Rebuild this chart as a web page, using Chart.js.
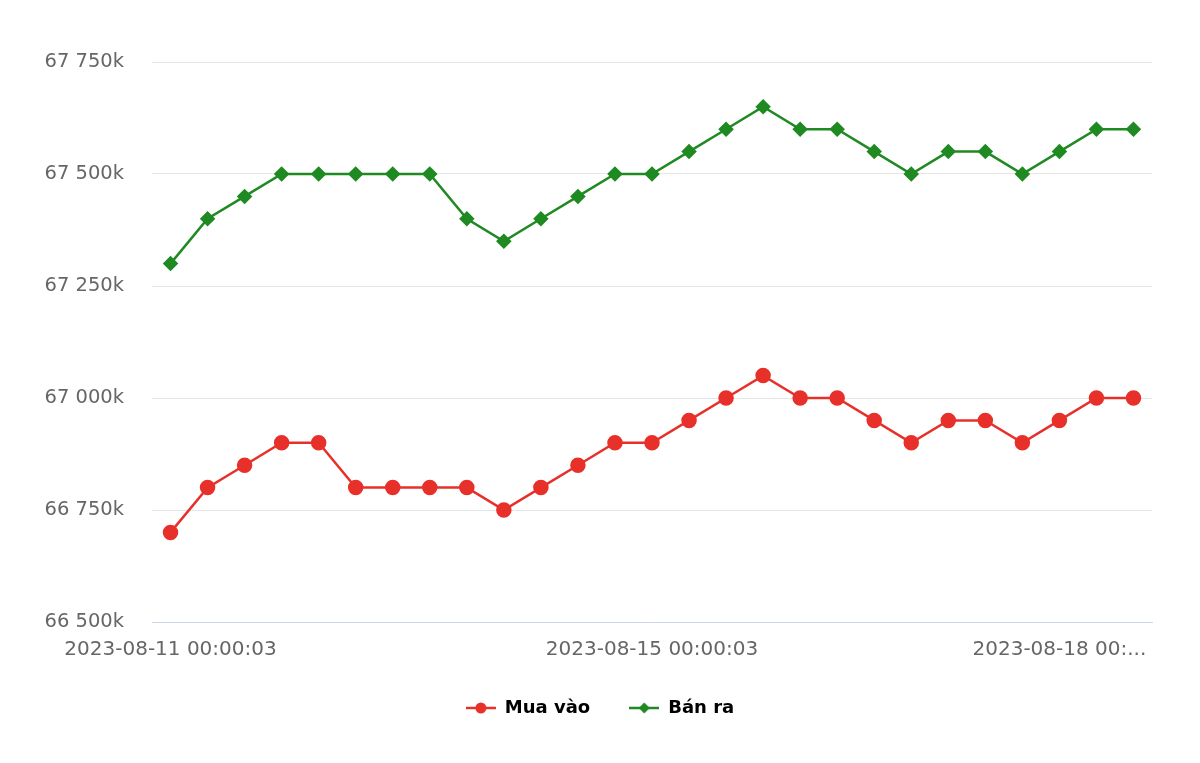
<!DOCTYPE html>
<html>
<head>
<meta charset="utf-8">
<style>
html,body{margin:0;padding:0;background:#fff;}
#wrap{width:1200px;height:763px;position:relative;}
</style>
<script src="https://cdn.jsdelivr.net/npm/chart.js@4.4.0/dist/chart.umd.min.js"></script>
</head>
<body>
<div id="wrap"><canvas id="c" width="1200" height="763"></canvas></div>
<script>
// Data (values in thousands)
const xLabels = [
  "2023-08-11 00:00:03","","","","","","","","","","","","",
  "2023-08-15 00:00:03","","","","","","","","","","",
  "2023-08-18 00:...","",""
];
const muaVao = [66700,66800,66850,66900,66900,66800,66800,66800,66800,66750,66800,66850,66900,66900,66950,67000,67050,67000,67000,66950,66900,66950,66950,66900,66950,67000,67000];
const banRa  = [67300,67400,67450,67500,67500,67500,67500,67500,67400,67350,67400,67450,67500,67500,67550,67600,67650,67600,67600,67550,67500,67550,67550,67500,67550,67600,67600];
const yMin = 66500, yMax = 67750, yStep = 250;
const seriesNames = ["Mua vào","Bán ra"];

const RED = "#e8302a", GREEN = "#1f8a22";
const FONT = "'DejaVu Sans', Verdana, sans-serif";

function legendIcon(color, style){
  const cv = document.createElement('canvas');
  cv.width = 30; cv.height = 14;
  const g = cv.getContext('2d');
  g.strokeStyle = color; g.lineWidth = 2.5;
  g.beginPath(); g.moveTo(0,7); g.lineTo(30,7); g.stroke();
  g.fillStyle = color;
  g.beginPath();
  if(style === 'circle'){ g.arc(15,7,5.5,0,Math.PI*2); }
  else { g.moveTo(15,1.5); g.lineTo(20.5,7); g.lineTo(15,12.5); g.lineTo(9.5,7); g.closePath(); }
  g.fill();
  return cv;
}
const icons = [legendIcon(RED,'circle'), legendIcon(GREEN,'diamond')];

function fmt(v){
  return String(v).replace(/\B(?=(\d{3})+(?!\d))/g,' ') + 'k';
}

new Chart(document.getElementById('c'), {
  type: 'line',
  data: {
    labels: xLabels,
    datasets: [
      {label: seriesNames[0], data: muaVao, borderColor: RED, backgroundColor: RED, borderWidth: 2.5,
       pointStyle: 'circle', pointRadius: 6.5, pointHoverRadius: 7, tension: 0},
      {label: seriesNames[1], data: banRa, borderColor: GREEN, backgroundColor: GREEN, borderWidth: 2.5,
       pointStyle: 'rectRot', pointRadius: 6, pointHoverRadius: 7, tension: 0}
    ]
  },
  options: {
    responsive: false,
    animation: false,
    layout: {padding: {left: 0, right: 0, top: 62, bottom: 36}},
    scales: {
      x: {
        offset: true,
        grid: {display: false, drawTicks: false},
        border: {display: true, color: '#ccd6eb', width: 1},
        ticks: {
          autoSkip: false, maxRotation: 0, minRotation: 0, padding: 16,
          color: '#666', font: {family: FONT, size: 20},
          callback: function(v, i){ return xLabels[i]; }
        },
        afterFit: function(s){ s.height = 38; }
      },
      y: {
        min: yMin, max: yMax,
        grid: {color: '#e6e6e6', lineWidth: 1, drawTicks: false},
        border: {display: false},
        ticks: {stepSize: yStep, padding: 28, color: '#666', font: {family: FONT, size: 19.5},
          callback: function(v){ return fmt(v); }},
        afterFit: function(s){ s.width = 152; }
      },
      yRight: {
        type: 'linear', position: 'right', min: yMin, max: yMax,
        grid: {display: false, drawTicks: false},
        border: {display: false},
        ticks: {display: false},
        afterFit: function(s){ s.width = 48; }
      }
    },
    plugins: {
      tooltip: {enabled: false},
      legend: {
        position: 'bottom',
        labels: {
          usePointStyle: true,
          pointStyleWidth: 30,
          color: '#333',
          font: {family: FONT, size: 18, weight: 'bold'},
          padding: 39,
          generateLabels: function(chart){
            return chart.data.datasets.map(function(ds, i){
              return {text: ds.label, fillStyle: ds.borderColor, strokeStyle: ds.borderColor,
                      pointStyle: icons[i], datasetIndex: i, hidden: false, lineWidth: 0};
            });
          }
        }
      }
    }
  }
});
</script>
</body>
</html>
